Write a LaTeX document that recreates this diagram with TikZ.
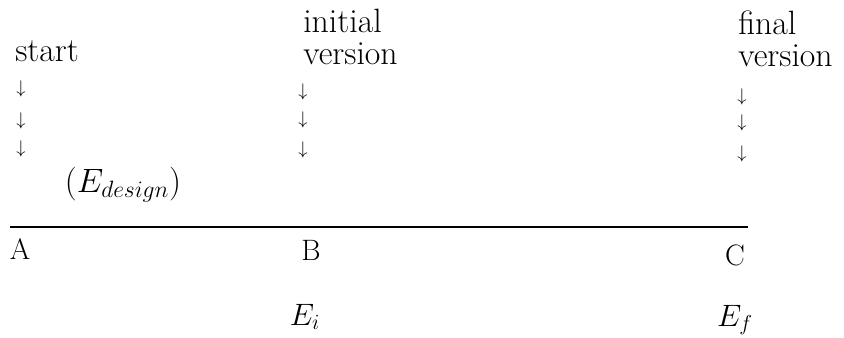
\RequirePackage{fix-cm}
\documentclass[tikz,border=0pt]{standalone}
\usepackage{amsmath,amssymb}
\usepackage{tikz}
\usetikzlibrary{arrows,positioning}
\newcommand{\Edes}{E_{design}}

\begin{document}
\begin{tikzpicture}[
  stage/.style={inner sep=0pt,text depth=0pt,align=left,anchor=south west,
                font=\fontsize{24}{22.7}\selectfont},
  down/.style={inner sep=0pt,font=\fontsize{13}{15}\selectfont},
  mark label/.style={inner sep=0pt,font=\fontsize{21}{25}\selectfont},
  energy/.style={inner sep=0pt,font=\fontsize{24}{28}\selectfont},
  timeline/.style={line width=1.2pt}
]
\useasboundingbox (0,0) rectangle (21.1,-8.425);

% labels of the three stages
\node[stage] (start) at (0.375,-1.55)  {start};
\node[stage] (init)  at (7.575,-1.625) {initial\\version};
\node[stage] (final) at (18.45,-1.675) {final\\version};

% small arrows under each stage
\node[down] (sa1) at (0.525,-2.225) {$\downarrow$};
\node[down] (sa2) at (0.525,-3.025) {$\downarrow$};
\node[down] (sa3) at (0.525,-3.725) {$\downarrow$};
\node[down] (ia1) at (7.575,-2.3)   {$\downarrow$};
\node[down] (ia2) at (7.575,-3.0)   {$\downarrow$};
\node[down] (ia3) at (7.575,-3.75)  {$\downarrow$};
\node[down] (fa1) at (18.55,-2.425) {$\downarrow$};
\node[down] (fa2) at (18.55,-3.075) {$\downarrow$};
\node[down] (fa3) at (18.55,-3.85)  {$\downarrow$};

\node[energy] (edes) at (3.075,-4.625) {$(\Edes)$};

% the time line
\coordinate (tl) at (0.25,-5.675);
\coordinate (tr) at (18.7,-5.675);
\draw[timeline] (tl) -- (tr);

\node[mark label] (A) at (0.5,-6.225)   {A};
\node[mark label] (B) at (7.775,-6.25)  {B};
\node[mark label] (C) at (18.375,-6.375) {C};

\node[energy,font=\fontsize{22}{26}\selectfont] (ei) at (7.625,-7.925) {$E_i$};
\node[energy,font=\fontsize{22}{26}\selectfont] (ef) at (18.375,-8.0)  {$E_f$};
\end{tikzpicture}
\end{document}
